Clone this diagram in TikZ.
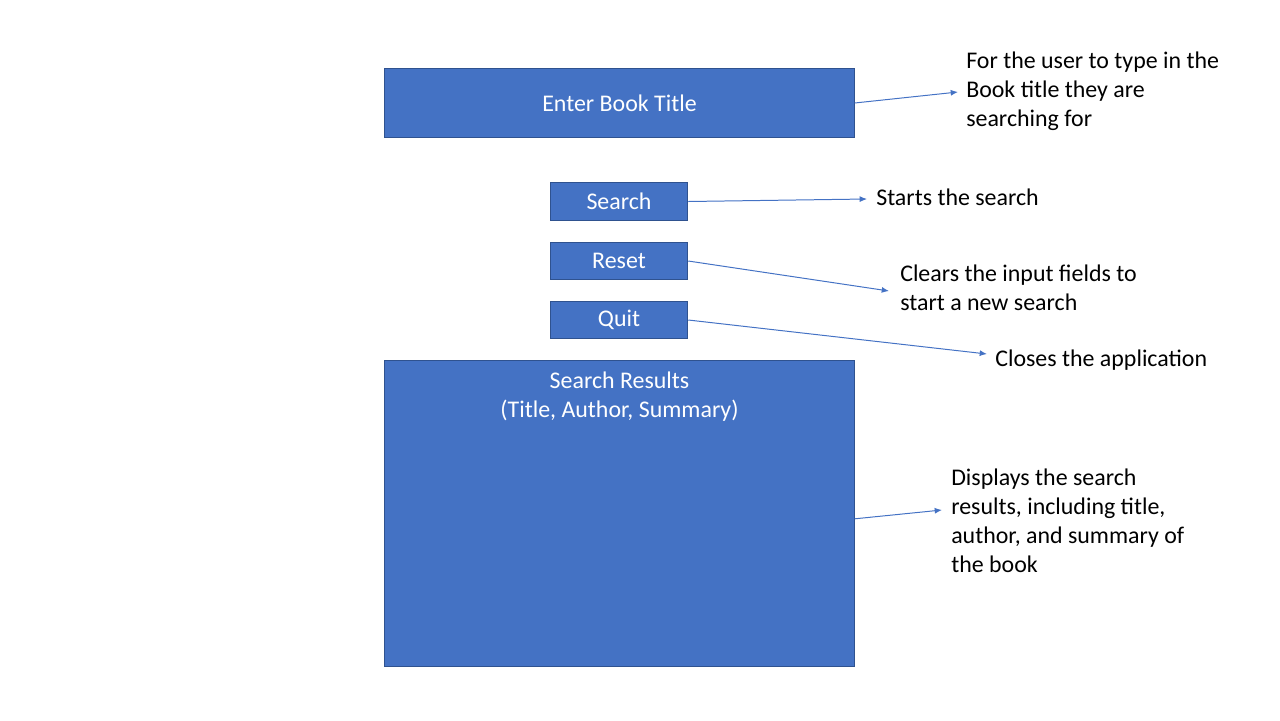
\documentclass[tikz,border=0pt]{standalone}
\usepackage{fontspec}
\setmainfont{Carlito}
\usepackage{tikz}
\usetikzlibrary{positioning}
\usetikzlibrary{arrows.meta}
\usepackage{xcolor}
\definecolor{boxblue}{HTML}{4472C4}
\definecolor{boxedge}{HTML}{2F528F}

\begin{document}
\begin{tikzpicture}[x=0.02646cm, y=-0.02646cm,
    box/.style={fill=boxblue, draw=boxedge, line width=0.75pt, text=white, font=\fontsize{18pt}{21.75pt}\selectfont, inner sep=0pt},
    note/.style={anchor=west, align=left, inner sep=0pt, font=\fontsize{18pt}{21.75pt}\selectfont},
    conn/.style={boxblue, line width=0.75pt, -{Latex[length=5.5pt,width=4.5pt]}}]
    \useasboundingbox (0,0) rectangle (1280,720);
    \node[box, minimum width=353.25pt, minimum height=52.5pt] (title) at (619.5,103) {Enter Book Title};
    \node[box, minimum width=103.5pt, minimum height=28pt] (search) at (619,201.5) {Search};
    \node[box, minimum width=103.5pt, minimum height=28pt] (reset) at (619,261) {Reset};
    \node[box, minimum width=103.5pt, minimum height=28pt] (quit) at (619,320) {Quit};
    \node[box, minimum width=353.25pt, minimum height=230.25pt,
        label={[anchor=north, text=white, align=center, yshift=-5.5pt, font=\fontsize{18pt}{21.75pt}\selectfont]north:Search Results\\(Title, Author, Summary)}] (results) at (619.5,513.5) {};

    \node[note] (titlenote) at (966,91) {For the user to type in the\\Book title they are\\searching for};
    \node[note] (searchnote) at (876,197) {Starts the search};
    \node[note] (resetnote) at (900,287.5) {Clears the input fields to\\start a new search};
    \node[note] (quitnote) at (995,360) {Closes the application};
    \node[note] (resultsnote) at (951,520.5) {Displays the search\\results, including title,\\author, and summary of\\the book};

    \draw[conn] (title.east) -- ([shift={(-8,1)}]titlenote.west);
    \draw[conn] (search.east) -- ([shift={(-9,2)}]searchnote.west);
    \draw[conn] (reset.east) -- ([shift={(-11,3.5)}]resetnote.west);
    \draw[conn] (quit.east) -- ([shift={(-8,-6)}]quitnote.west);
    \draw[conn] ([yshift=-4pt]results.east) -- ([shift={(-9,-10.5)}]resultsnote.west);
\end{tikzpicture}
\end{document}
